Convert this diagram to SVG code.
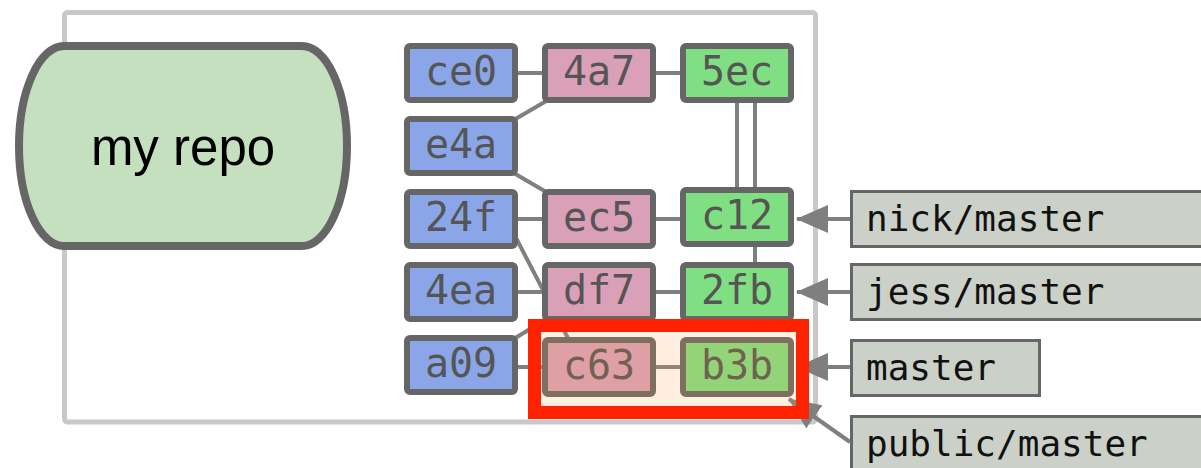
<svg xmlns="http://www.w3.org/2000/svg" width="1201" height="468" viewBox="0 0 1201 468">
  <defs>
    <marker id="arr" markerUnits="userSpaceOnUse" markerWidth="32" markerHeight="28" refX="31" refY="14" orient="auto">
      <path d="M0,0 L32,14 L0,28 Z" fill="#7f7f7f"/>
    </marker>
    <style>
      .frame { fill: #ffffff; stroke: #c8c8c8; stroke-width: 5; }
      .repo { fill: #c5e0be; stroke: #666666; stroke-width: 8; }
      .repotext { font-family: "Liberation Sans", Arial, sans-serif; font-size: 51px; fill: #000000; }
      .c { stroke: #666666; stroke-width: 6; }
      .blue { fill: #8ba6e8; }
      .pink { fill: #d9a0b7; }
      .green { fill: #80df82; }
      .nt { font-family: "DejaVu Sans Mono", "Liberation Mono", monospace; font-size: 40px; fill: #555555; text-anchor: middle; }
      .line { stroke: #808080; stroke-width: 4; fill: none; }
      .arrow { stroke: #7f7f7f; stroke-width: 4; fill: none; marker-end: url(#arr); }
      .lbl { fill: #cbd0c9; stroke: #666666; stroke-width: 3; }
      .lt { font-family: "DejaVu Sans Mono", "Liberation Mono", monospace; font-size: 36px; fill: #111111; }
    </style>
  </defs>

  <rect class="frame" x="64.5" y="12.5" width="751" height="409.5" rx="3"/>

  <g id="repo">
    <path class="repo" d="M64,46 H302 A45,100 0 0 1 302,246 H64 A45,100 0 0 1 64,46 Z"/>
    <text class="repotext" x="183" y="165" text-anchor="middle">my repo</text>
  </g>

  <g id="connectors">
    <line class="line" x1="515" y1="73" x2="545" y2="73"/>
    <line class="line" x1="653" y1="73" x2="683" y2="73"/>
    <line class="line" x1="512" y1="121" x2="548" y2="100"/>
    <line class="line" x1="512" y1="172" x2="548" y2="193"/>
    <line class="line" x1="515" y1="219" x2="545" y2="219"/>
    <line class="line" x1="653" y1="219" x2="683" y2="219"/>
    <line class="line" x1="737" y1="100" x2="737" y2="192"/>
    <line class="line" x1="755" y1="100" x2="755" y2="265"/>
    <line class="line" x1="515" y1="236" x2="570" y2="342"/>
    <line class="line" x1="515" y1="292" x2="545" y2="292"/>
    <line class="line" x1="653" y1="292" x2="683" y2="292"/>
    <line class="line" x1="512" y1="340" x2="548" y2="318"/>
    <line class="line" x1="515" y1="367" x2="545" y2="367"/>
    <line class="line" x1="653" y1="367" x2="683" y2="367"/>
    <line class="arrow" x1="850" y1="219" x2="797" y2="219"/>
    <line class="arrow" x1="850" y1="292" x2="797" y2="292"/>
    <line class="arrow" x1="850" y1="367" x2="797" y2="367"/>
    <line class="arrow" x1="850" y1="442" x2="789" y2="399"/>
  </g>

  <g id="ce0"><rect class="c blue" x="407" y="46" width="108" height="54" rx="3"/><text class="nt" x="461" y="85">ce0</text></g>
  <g id="e4a"><rect class="c blue" x="407" y="119" width="108" height="54" rx="3"/><text class="nt" x="461" y="158">e4a</text></g>
  <g id="n24f"><rect class="c blue" x="407" y="192" width="108" height="54" rx="3"/><text class="nt" x="461" y="231">24f</text></g>
  <g id="n4ea"><rect class="c blue" x="407" y="265" width="108" height="54" rx="3"/><text class="nt" x="461" y="304">4ea</text></g>
  <g id="a09"><rect class="c blue" x="407" y="338" width="108" height="54" rx="3"/><text class="nt" x="461" y="377">a09</text></g>

  <g id="n4a7"><rect class="c pink" x="545" y="46" width="108" height="54" rx="3"/><text class="nt" x="599" y="85">4a7</text></g>
  <g id="ec5"><rect class="c pink" x="545" y="192" width="108" height="54" rx="3"/><text class="nt" x="599" y="231">ec5</text></g>
  <g id="df7"><rect class="c pink" x="545" y="265" width="108" height="54" rx="3"/><text class="nt" x="599" y="304">df7</text></g>
  <g id="c63"><rect class="c pink" x="545" y="340" width="108" height="54" rx="3"/><text class="nt" x="599" y="379">c63</text></g>

  <g id="n5ec"><rect class="c green" x="683" y="46" width="108" height="54" rx="3"/><text class="nt" x="737" y="85">5ec</text></g>
  <g id="c12"><rect class="c green" x="683" y="190" width="108" height="54" rx="3"/><text class="nt" x="737" y="229">c12</text></g>
  <g id="n2fb"><rect class="c green" x="683" y="265" width="108" height="54" rx="3"/><text class="nt" x="737" y="304">2fb</text></g>
  <g id="b3b"><rect class="c green" x="683" y="340" width="108" height="54" rx="3"/><text class="nt" x="737" y="379">b3b</text></g>

  <g id="nick-master"><rect class="lbl" x="851.5" y="191.5" width="400" height="55"/><text class="lt" x="866" y="231">nick/master</text></g>
  <g id="jess-master"><rect class="lbl" x="851.5" y="264.5" width="400" height="55"/><text class="lt" x="866" y="304">jess/master</text></g>
  <g id="master"><rect class="lbl" x="851.5" y="340.5" width="188" height="55"/><text class="lt" x="866" y="380">master</text></g>
  <g id="public-master"><rect class="lbl" x="851.5" y="416.5" width="400" height="55"/><text class="lt" x="866" y="456">public/master</text></g>

  <g id="highlight">
    <rect x="534.5" y="325.5" width="268" height="87" fill="#f7a04a" fill-opacity="0.17"/>
    <rect x="534.5" y="325.5" width="268" height="87" fill="none" stroke="#fe2200" stroke-width="13"/>
  </g>
</svg>
